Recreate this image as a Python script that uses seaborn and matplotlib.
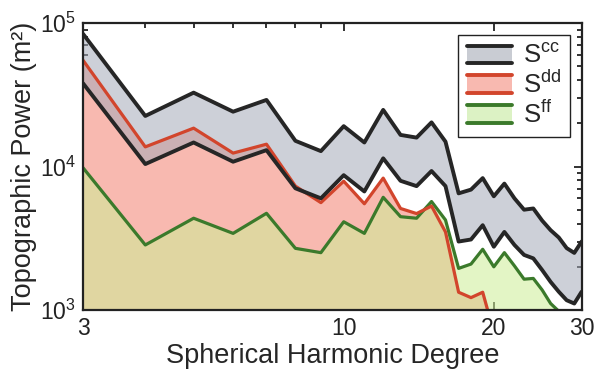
import matplotlib
matplotlib.use("Agg")
import pandas as pd
import matplotlib.pyplot as plt
import seaborn as sns
from matplotlib.patches import Patch, Rectangle
from matplotlib.lines import Line2D
from matplotlib.legend_handler import HandlerBase
from matplotlib.ticker import NullFormatter

# ------------------------------
# Data
# ------------------------------
degree = list(range(3, 31))

# S^cc band: upper and lower bounds
cc_hi = [8.4e4, 2.25e4, 3.27e4, 2.41e4, 2.91e4, 1.51e4, 1.28e4, 1.91e4, 1.47e4, 2.48e4,
         1.66e4, 1.59e4, 2.03e4, 1.49e4, 6.5e3, 6.9e3, 8.3e3, 6.2e3, 7.6e3, 6.0e3,
         5.0e3, 5.1e3, 4.2e3, 3.6e3, 3.2e3, 2.7e3, 2.5e3, 3.0e3]
cc_lo = [3.8e4, 1.04e4, 1.47e4, 1.08e4, 1.30e4, 7.05e3, 6.0e3, 8.7e3, 6.7e3, 1.14e4,
         7.95e3, 7.3e3, 9.3e3, 7.3e3, 3.0e3, 3.1e3, 3.9e3, 2.76e3, 3.5e3, 2.84e3,
         2.42e3, 2.29e3, 1.9e3, 1.57e3, 1.34e3, 1.17e3, 1.11e3, 1.34e3]

# S^dd (degrees 3..20)
dd_degree = list(range(3, 21))
dd = [5.5e4, 1.37e4, 1.85e4, 1.24e4, 1.43e4, 7.3e3, 5.6e3, 7.9e3, 5.5e3, 8.3e3,
      5.1e3, 4.7e3, 5.3e3, 3.5e3, 1.33e3, 1.22e3, 1.33e3, 7.0e2]

# S^ff (degrees 3..27)
ff_degree = list(range(3, 28))
ff = [9.8e3, 2.84e3, 4.36e3, 3.42e3, 4.72e3, 2.69e3, 2.51e3, 4.12e3, 3.42e3, 6.1e3,
      4.47e3, 4.36e3, 5.7e3, 4.24e3, 1.95e3, 2.09e3, 2.65e3, 2.0e3, 2.51e3, 2.03e3,
      1.64e3, 1.66e3, 1.38e3, 1.11e3, 0.98e3]

x_ticks = [3, 10, 20, 30]
x_minor = [4, 5, 6, 7, 8, 9]
y_floor = 1e3
y_top = 1e5

# colours
black = "#262626"
red = "#d2452c"
green = "#3b7a2b"
pink = "#f8b9b0"
gray_fill = (165 / 255, 170 / 255, 185 / 255, 0.55)
green_fill = (205 / 255, 238 / 255, 150 / 255, 0.55)

df_cc = pd.DataFrame({"degree": degree, "hi": cc_hi, "lo": cc_lo})
df_dd = pd.DataFrame({"degree": dd_degree, "power": dd})
df_ff = pd.DataFrame({"degree": ff_degree, "power": ff})

# ------------------------------
# Plot
# ------------------------------
sns.set_style("ticks")
plt.rcParams["font.family"] = ["Liberation Sans", "DejaVu Sans"]

fig = plt.figure(figsize=(5.95, 3.75), dpi=100)
ax = fig.add_axes([0.1395, 0.1733, 0.838, 0.7654])

# fills
ax.fill_between(df_dd["degree"], df_dd["power"], y_floor, color=pink, lw=0, zorder=1)
ax.fill_between(df_ff["degree"], df_ff["power"], y_floor, color=green_fill, lw=0, zorder=2)
ax.fill_between(df_cc["degree"], df_cc["lo"], df_cc["hi"], color=gray_fill, lw=0, zorder=3)

# lines
sns.lineplot(data=df_ff, x="degree", y="power", ax=ax, color=green, lw=2.3, zorder=4)
sns.lineplot(data=df_dd, x="degree", y="power", ax=ax, color=red, lw=2.3, zorder=5)
sns.lineplot(data=df_cc, x="degree", y="hi", ax=ax, color=black, lw=2.8, zorder=6)
sns.lineplot(data=df_cc, x="degree", y="lo", ax=ax, color=black, lw=2.8, zorder=6)

ax.set_xscale("log")
ax.set_yscale("log")
ax.set_xlim(3, 30)
ax.set_ylim(y_floor, y_top)

ax.set_xticks(x_ticks, labels=[str(t) for t in x_ticks])
ax.set_xticks(x_minor, minor=True)
ax.xaxis.set_minor_formatter(NullFormatter())

ax.tick_params(which="both", direction="in", top=True, right=True, width=1.3,
               labelsize=16.5, colors="#222222")
ax.tick_params(which="major", length=6, pad=5)
ax.tick_params(which="minor", length=3.5)
for sp in ax.spines.values():
    sp.set_linewidth(1.6)
    sp.set_color("#222222")
    sp.set_zorder(10)

ax.set_xlabel("Spherical Harmonic Degree", fontsize=19.5, labelpad=2)
ax.set_ylabel("Topographic Power (m²)", fontsize=19.5, labelpad=2)


# legend: band swatch with coloured top and bottom edges
class BandHandler(HandlerBase):
    def create_artists(self, legend, orig_handle, xdescent, ydescent,
                       width, height, fontsize, trans):
        x0, y0 = -xdescent, -ydescent
        rect = Rectangle((x0, y0), width, height, facecolor=orig_handle.get_facecolor(),
                         edgecolor="none", transform=trans)
        ec = orig_handle.get_edgecolor()
        top = Line2D([x0, x0 + width], [y0 + height] * 2, color=ec, lw=2.8, transform=trans)
        bot = Line2D([x0, x0 + width], [y0] * 2, color=ec, lw=2.8, transform=trans)
        return [rect, top, bot]


handles = [
    Patch(facecolor="#c9ccd3", edgecolor=black),
    Patch(facecolor=pink, edgecolor=red),
    Patch(facecolor="#dcf2c4", edgecolor=green),
]
labels = [r"S$^{\mathregular{cc}}$", r"S$^{\mathregular{dd}}$", r"S$^{\mathregular{ff}}$"]
leg = ax.legend(handles, labels, handler_map={Patch: BandHandler()}, loc="upper right",
                fontsize=18.5, handlelength=1.75, handleheight=0.65, labelspacing=0.08,
                handletextpad=0.4, borderpad=0.35, borderaxespad=0.45,
                fancybox=False, framealpha=1, edgecolor="#222222")
leg.get_frame().set_linewidth(1.0)
leg.set_zorder(20)

fig.savefig("out.png", dpi=100)
